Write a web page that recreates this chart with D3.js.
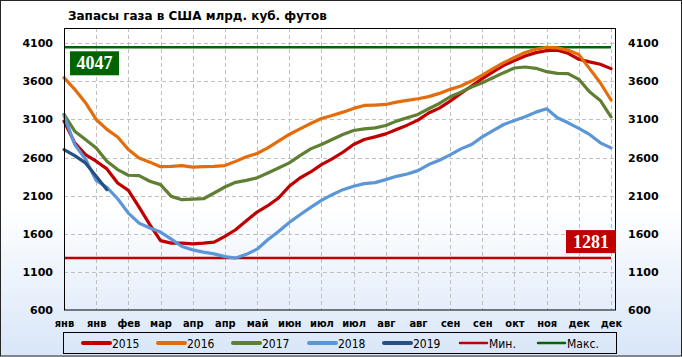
<!DOCTYPE html>
<html>
<head>
<meta charset="utf-8">
<script src="https://cdn.jsdelivr.net/npm/d3@7"></script>
<style>
  html, body { margin: 0; padding: 0; background: #fff; }
  svg { display: block; }
</style>
</head>
<body>
<svg id="chart" width="682" height="357"></svg>
<script>
const title = "Запасы газа в США млрд. куб. фут\u043Eв";
const tickLabels = ["янв","янв","фев","мар","апр","апр","май","июн","июл","июл","авг","авг","сен","сен","окт","ноя","дек","дек"];
const yTicks = [600, 1100, 1600, 2100, 2600, 3100, 3600, 4100];

const s2015 = [3078,2793,2640,2552,2451,2267,2170,1950,1720,1510,1477,1477,1468,1477,1490,1565,1653,1770,1885,1968,2069,2223,2332,2411,2508,2582,2670,2771,2837,2872,2911,2968,3025,3091,3185,3249,3341,3442,3539,3635,3723,3811,3872,3933,3977,4004,4008,3968,3890,3855,3824,3767];
const s2016 = [3648,3495,3320,3100,2970,2870,2705,2595,2540,2480,2485,2495,2475,2480,2485,2495,2550,2610,2653,2727,2815,2903,2977,3047,3113,3153,3196,3245,3284,3289,3297,3328,3350,3372,3400,3442,3495,3539,3604,3683,3767,3846,3912,3978,4021,4047,4040,4007,3951,3767,3582,3355];
const s2017 = [3166,2946,2837,2727,2552,2442,2368,2363,2289,2245,2091,2047,2056,2060,2135,2214,2275,2300,2333,2398,2464,2530,2626,2714,2771,2837,2903,2955,2977,2990,3021,3078,3122,3166,3240,3310,3398,3459,3525,3582,3648,3714,3775,3788,3771,3727,3705,3701,3626,3464,3350,3135];
const s2018 = [3153,2771,2580,2300,2210,2060,1872,1740,1675,1622,1530,1433,1389,1359,1337,1300,1281,1330,1398,1521,1631,1749,1850,1946,2039,2113,2179,2223,2258,2271,2311,2354,2385,2429,2508,2565,2635,2714,2771,2872,2955,3034,3087,3135,3196,3240,3122,3056,2982,2903,2793,2727];
const s2019 = [2705,2626,2530,2354,2179];
const minValue = 1281;
const maxValue = 4047;

const seriesNames = ["2015","2016","2017","2018","2019"];
const seriesColors = ["#c00000","#e46c0a","#5f7f32","#5a96d8","#254f85"];
const seriesData = [s2015, s2016, s2017, s2018, s2019];

const svg = d3.select("#chart");
const W = 682, H = 357;
const L = 64, R = 615, T = 28, B = 310;

// background gradient
const defs = svg.append("defs");
const grad = defs.append("linearGradient").attr("id","bg").attr("x1",0).attr("y1",0).attr("x2",0).attr("y2",1);
grad.append("stop").attr("offset","0%").attr("stop-color","#ffffff");
grad.append("stop").attr("offset","58%").attr("stop-color","#ffffff");
grad.append("stop").attr("offset","100%").attr("stop-color","#d8e6f8");
svg.append("rect").attr("x",0).attr("y",0).attr("width",W).attr("height",H).attr("fill","url(#bg)");
svg.append("rect").attr("x",0.5).attr("y",0.5).attr("width",W-1).attr("height",H-1.5)
  .attr("fill","none").attr("stroke","#262626").attr("stroke-width",1);

const x = d3.scaleLinear().domain([0, 51]).range([L, 611]);
const y = d3.scaleLinear().domain([600, 4300]).range([B, T]);

const tickIdx = tickLabels.map((d,i) => i*3);

// gridlines
const grid = svg.append("g");
grid.selectAll("line.h").data(yTicks.slice(1)).join("line")
  .attr("x1", L).attr("x2", R).attr("y1", d => Math.round(y(d))+0.5).attr("y2", d => Math.round(y(d))+0.5)
  .attr("stroke","#bfbfbf").attr("stroke-dasharray","4,3").attr("stroke-width",1);
grid.selectAll("line.v").data(tickIdx.slice(1)).join("line")
  .attr("x1", d => Math.round(x(d))+0.5).attr("x2", d => Math.round(x(d))+0.5).attr("y1", T).attr("y2", B)
  .attr("stroke","#bfbfbf").attr("stroke-dasharray","4,3").attr("stroke-width",1);

// min/max lines
svg.append("line").attr("x1", x(0)).attr("x2", x(51)).attr("y1", y(maxValue)).attr("y2", y(maxValue))
  .attr("stroke","#006400").attr("stroke-width",2.5);
svg.append("line").attr("x1", x(0)).attr("x2", x(51)).attr("y1", y(minValue)).attr("y2", y(minValue))
  .attr("stroke","#c00000").attr("stroke-width",2.5);

// series
const line = d3.line().x((d,i) => x(i)).y(d => y(d));
seriesData.forEach((arr, k) => {
  svg.append("path").datum(arr).attr("d", line)
    .attr("fill","none").attr("stroke", seriesColors[k]).attr("stroke-width",3.2)
    .attr("stroke-linejoin","round").attr("stroke-linecap","round");
});

// plot frame
svg.append("rect").attr("x", L+0.5).attr("y", T+0.5).attr("width", R-L).attr("height", B-T-0.5)
  .attr("fill","none").attr("stroke","#000").attr("stroke-width",1);

// axes
const fontY = "DejaVu Sans, Verdana, sans-serif";
const yl = d3.axisLeft(y).tickValues(yTicks).tickSize(0).tickPadding(11).tickFormat(d3.format("d"));
const gL = svg.append("g").attr("transform",`translate(${L},0)`).call(yl);
gL.select(".domain").remove();
gL.selectAll("text").attr("font-family", fontY).attr("font-weight","bold").attr("font-size","11px").attr("fill","#000");

const yr = d3.axisRight(y).tickValues(yTicks).tickSize(0).tickPadding(13).tickFormat(d3.format("d"));
const gR = svg.append("g").attr("transform",`translate(${R},0)`).call(yr);
gR.select(".domain").remove();
gR.selectAll("text").attr("font-family", fontY).attr("font-weight","bold").attr("font-size","11px").attr("fill","#000");

const xb = d3.axisBottom(x).tickValues(tickIdx).tickSize(0).tickPadding(9).tickFormat((d,i) => tickLabels[i]);
const gB = svg.append("g").attr("transform",`translate(0,${B})`).call(xb);
gB.select(".domain").remove();
gB.selectAll("text").attr("font-family","DejaVu Sans Condensed, DejaVu Sans, sans-serif").attr("font-weight","bold").attr("font-size","11px").attr("fill","#000");

// title
svg.append("text").attr("x", 68).attr("y", 20).text(title)
  .attr("font-family", fontY).attr("font-weight","bold").attr("font-size","12px").attr("fill","#000");

// value boxes
function valueBox(xl, yt, w, h, fill, txt) {
  svg.append("rect").attr("x", xl).attr("y", yt).attr("width", w).attr("height", h).attr("fill", fill);
  svg.append("text").attr("x", xl + w/2).attr("y", yt + h/2 + 6).attr("text-anchor","middle")
    .attr("font-family","Liberation Serif, Times New Roman, serif").attr("font-weight","bold")
    .attr("font-size","18px").attr("fill","#fff").text(txt);
}
valueBox(70, y(maxValue) + 4, 49, 24, "#006400", String(maxValue));
valueBox(566, y(minValue) - 28, 50, 23, "#c00000", String(minValue));

// legend
svg.append("rect").attr("x", 63.5).attr("y", 332.5).attr("width", 553).attr("height", 21)
  .attr("fill","none").attr("stroke","#000").attr("stroke-width",1);
const legItems = seriesNames.map((n,k) => ({name:n, color:seriesColors[k], w:4}))
  .concat([{name:"Мин.", color:"#c00000", w:2.5}, {name:"Макс.", color:"#006400", w:2.5}]);
const legX = [83, 158, 233, 309, 384, 460, 538];
legItems.forEach((d,k) => {
  const g = svg.append("g").attr("transform",`translate(${legX[k]},343)`);
  g.append("line").attr("x1",0).attr("x2",27).attr("y1",0).attr("y2",0)
    .attr("stroke", d.color).attr("stroke-width", d.w).attr("stroke-linecap","round");
  g.append("text").attr("x", 29).attr("y", 4.5).text(d.name)
    .attr("font-family","DejaVu Sans Condensed, DejaVu Sans, sans-serif").attr("font-size","12px").attr("fill","#000");
});
</script>
</body>
</html>
